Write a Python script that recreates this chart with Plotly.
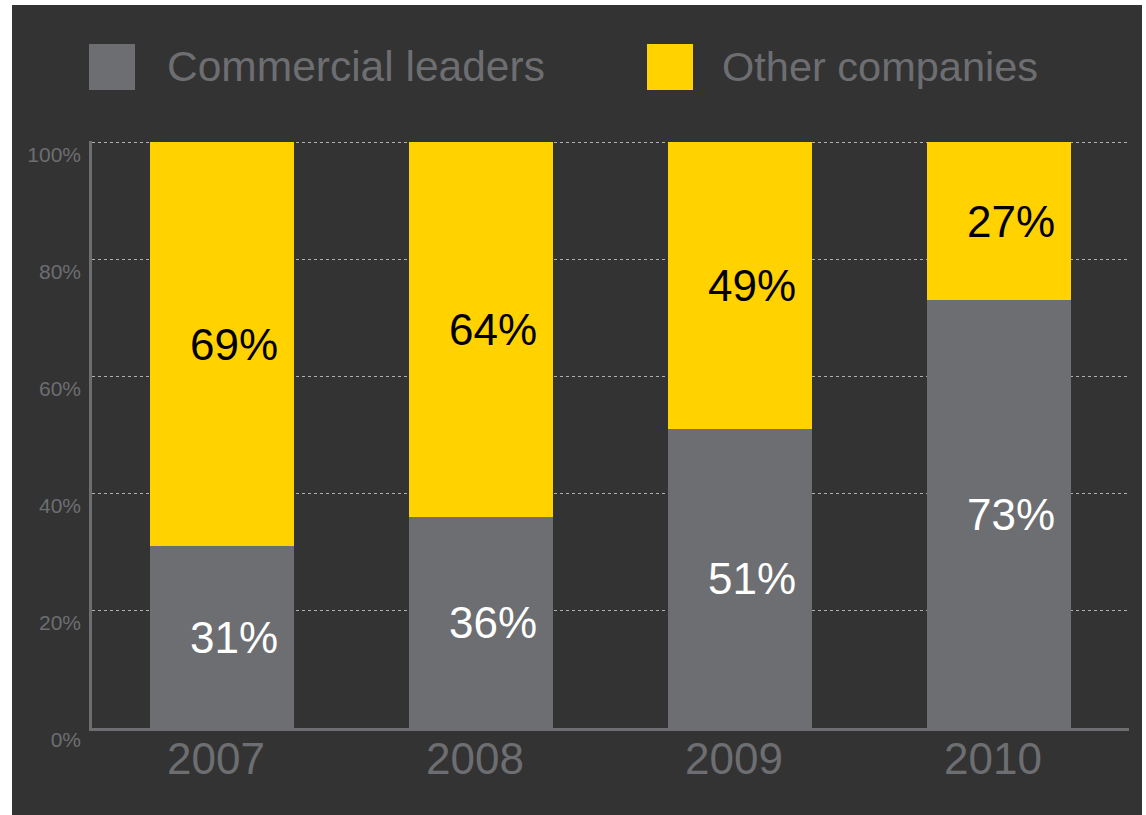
import plotly.graph_objects as go

# Share of the market by year
years = ["2007", "2008", "2009", "2010"]
commercial_leaders = [31, 36, 51, 73]
other_companies = [69, 64, 49, 27]
y_ticks = [0, 20, 40, 60, 80, 100]
y_tick_labels = ["0%", "20%", "40%", "60%", "80%", "100%"]

GRAY = "#6d6e71"
YELLOW = "#ffd200"
DARK = "#333333"
FONT = "Liberation Sans, Arial, sans-serif"

W, H = 1146, 815
ML, MR, MT, MB = 92, 17, 141, 87
PW, PH = W - ML - MR, H - MT - MB
Y_TOP = 100.2


def px_x(x):
    return (x - ML) / PW


def px_y(y):
    return (H - MB - y) / PH


fig = go.Figure()
fig.add_trace(go.Bar(x=years, y=commercial_leaders, name="Commercial leaders",
                     marker=dict(color=GRAY, line=dict(width=0)), width=0.556))
fig.add_trace(go.Bar(x=years, y=other_companies, name="Other companies",
                     marker=dict(color=YELLOW, line=dict(width=0)), width=0.556))

annotations = []
# value labels centred in each segment (category index used as x position)
for i, (lo, hi) in enumerate(zip(commercial_leaders, other_companies)):
    annotations.append(dict(x=i, y=lo / 2, xref="x", yref="y", text=f"{lo}%",
                            showarrow=False, xshift=12,
                            font=dict(family=FONT, size=44, color="white")))
    annotations.append(dict(x=i, y=lo + hi / 2, xref="x", yref="y", text=f"{hi}%",
                            showarrow=False, xshift=12,
                            font=dict(family=FONT, size=44, color="black")))

# year labels under the axis
for i, yr in enumerate(years):
    annotations.append(dict(x=i, y=px_y(758), xref="x", yref="paper", text=yr,
                            showarrow=False, xshift=-6, yanchor="middle",
                            font=dict(family=FONT, size=44, color=GRAY)))

# custom legend: big swatches with text
shapes = [
    dict(type="rect", xref="paper", yref="paper", layer="below",
         x0=px_x(12), x1=px_x(1142), y0=px_y(815), y1=px_y(5),
         fillcolor=DARK, line=dict(width=0)),
]
legend_items = [(fig.data[0].name, GRAY, 89, 165, 42.5),
                (fig.data[1].name, YELLOW, 647, 720, 41.5)]
for name, color, sx, tx, fs in legend_items:
    shapes.append(dict(type="rect", xref="paper", yref="paper",
                       x0=px_x(sx), x1=px_x(sx + 46), y0=px_y(90), y1=px_y(44),
                       fillcolor=color, line=dict(width=0)))
    annotations.append(dict(x=px_x(tx), y=px_y(67), xref="paper", yref="paper",
                            xanchor="left", yanchor="middle", text=name,
                            showarrow=False,
                            font=dict(family=FONT, size=fs, color=GRAY)))

fig.update_layout(
    barmode="stack",
    width=W, height=H,
    margin=dict(l=ML, r=MR, t=MT, b=MB, pad=0),
    paper_bgcolor="white",
    plot_bgcolor="rgba(0,0,0,0)",
    showlegend=False,
    shapes=shapes,
    annotations=annotations,
    xaxis=dict(
        type="category", range=[-0.5, 3.5],
        showline=True, linecolor=GRAY, linewidth=2.5,
        showgrid=False, zeroline=False, ticks="", showticklabels=False,
    ),
    yaxis=dict(
        range=[0, Y_TOP], tickvals=y_ticks, ticktext=y_tick_labels,
        showline=True, linecolor=GRAY, linewidth=2.5,
        showgrid=True, gridcolor="#b0b0b0", gridwidth=1, griddash="dot",
        zeroline=False, ticks="",
        tickfont=dict(family=FONT, size=21, color=GRAY),
        ticklabelshift=12, ticklabelstandoff=4,
    ),
)

fig.write_html("out.html")
